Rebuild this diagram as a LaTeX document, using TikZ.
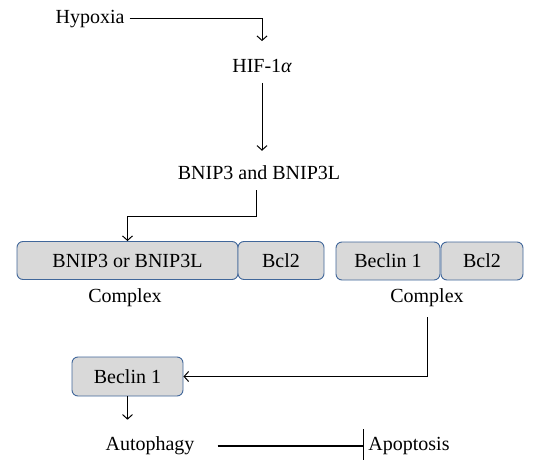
\documentclass[tikz,border=0pt]{standalone}
\usepackage{fontspec}
\setmainfont{Liberation Serif}
\usetikzlibrary{arrows.meta}
\definecolor{boxfill}{HTML}{D9D9D9}
\definecolor{boxline}{HTML}{41679A}
\tikzset{
  lbl/.style={font=\fontsize{20}{24}\selectfont, inner xsep=0pt, inner ysep=10pt},
  protbox/.style={draw=boxline, fill=boxfill, line width=0.9pt, rounded corners=6pt,
    minimum height=38pt, inner sep=0pt, font=\fontsize{20}{24}\selectfont},
  act/.style={-{Straight Barb[length=4.5pt,width=10pt]}, line width=1pt},
  inhib/.style={-{Bar[width=34pt,line width=1.4pt]}, line width=1.1pt}
}
\begin{document}
\begin{tikzpicture}[x=1pt,y=-1pt]
\useasboundingbox (0,0) rectangle (538,460);
% top part
\node[lbl] (hyp) at (90,19) {Hypoxia};
\node[lbl] (hif) at (262,66) {HIF-1{\itshape α}};
\node[lbl] (bnip) at (259,173) {BNIP3 and BNIP3L};
\draw[act, shorten <=5pt, shorten >=8pt] (hyp.east) -| (hif.north);
\draw[act, shorten >=5pt] (hif.south) -- (hif.south |- bnip.north);
% complexes
\node[protbox, minimum width=221pt] (bor) at (127.5,260.5) {BNIP3 or BNIP3L};
\node[protbox, minimum width=86pt] (bcla) at (281,260.5) {Bcl2};
\node[protbox, minimum width=104pt] (becb) at (388,261) {Beclin 1};
\node[protbox, minimum width=82pt] (bclb) at (482,261) {Bcl2};
\node[lbl] (cplxa) at (125,298) {Complex};
\node[lbl] (cplxb) at (427,298) {Complex};
\coordinate (bend) at (0,216);
\draw[act] ([xshift=-3pt]bnip.south) -- ([xshift=-3pt]bnip.south |- bend) -| (bor.north);
% beclin and outcome
\node[protbox, minimum width=111pt, minimum height=39pt] (bec) at (127.5,376.5) {Beclin 1};
\draw[act] (cplxb.south) |- (bec.east);
\node[lbl] (auto) at (150,446) {Autophagy};
\node[lbl, inner xsep=4pt] (apop) at (409,446) {Apoptosis};
\draw[act, shorten >=7pt] (bec.south) -- (bec.south |- auto.north);
\draw[inhib, shorten <=23pt] (auto.east) -- (apop.west);
\end{tikzpicture}
\end{document}
